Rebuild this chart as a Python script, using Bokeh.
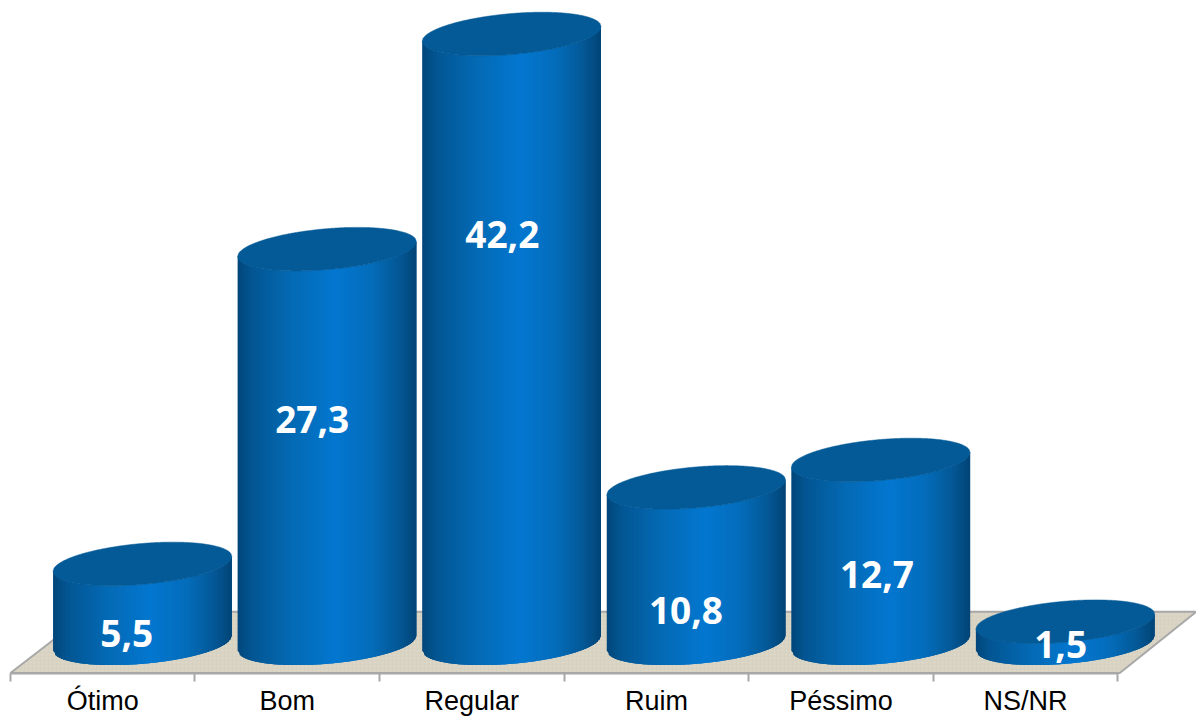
from bokeh.plotting import figure
from bokeh.embed import file_html
from bokeh.resources import INLINE
from bokeh.core.properties import value
from bokeh.models import FixedTicker, LinearAxis, Range1d

categories = ["Ótimo", "Bom", "Regular", "Ruim", "Péssimo", "NS/NR"]
values = [5.5, 27.3, 42.2, 10.8, 12.7, 1.5]
value_labels = ["5,5", "27,3", "42,2", "10,8", "12,7", "1,5"]

# layout: the 1204x726 design scaled into the 1196x718 figure
W, H = 1196, 718
SX, SY = W / 1204, H / 726
PX_X = 185.8 * SX
PX_Y = 14.6 * SY
x0 = -10 * SX / PX_X
x_range = Range1d(x0, x0 + W / PX_X)
y_line = -30 * SY / PX_Y
y0 = -(726 - 650) * SY / PX_Y
y_range = Range1d(y0, y0 + H / PX_Y)

p = figure(width=W, height=H, output_backend="svg", toolbar_location=None,
           x_range=x_range, y_range=y_range, x_axis_location=None, y_axis_location=None,
           min_border_left=0, min_border_right=0, min_border_top=0, min_border_bottom=0,
           outline_line_color=None, background_fill_color="white", border_fill_color="white")
p.grid.visible = False

# floor
n = len(categories)
depth = 62 * SY / PX_Y
shift_left = 80 * SX / PX_X
front_r = n + 2 * SX / PX_X
back_r = front_r + 77 * SX / PX_X
p.patch([0, front_r, back_r, shift_left], [y_line, y_line, y_line + depth, y_line + depth],
        fill_color="#d8d2c3", line_color="#a8a8a8", line_width=2,
        hatch_pattern="dot", hatch_color="#e2ddd0", hatch_scale=4, hatch_alpha=0.6)

# cylinder geometry: the 3D view shifts the bars to the right of their slots
bar_shift = 40 * SX / PX_X
half_w = 90 * SX / PX_X
skew = 7.5 * SY / PX_Y
bulge = 20.7 * SY / PX_Y
stops = [(0.0, (2, 70, 122)), (0.08, (3, 86, 146)), (0.3, (4, 106, 180)), (0.55, (3, 119, 208)),
         (0.75, (4, 108, 186)), (0.9, (4, 88, 150)), (1.0, (2, 68, 118))]


def side_colour(f):
    for (a, ca), (b, cb) in zip(stops, stops[1:]):
        if f <= b:
            t = (f - a) / (b - a)
            return "#%02x%02x%02x" % tuple(round(u + (v - u) * t) for u, v in zip(ca, cb))
    return "#02447a"


def lower_arc(u, base):
    return base + skew * u - bulge * (1 - min(u * u, 1.0)) ** 0.5


N = 90
for i, v in enumerate(values):
    cx = i + 0.5 + bar_shift
    xs, ys, cols = [], [], []
    for k in range(N):
        u0 = -1 + 2 * k / N
        # each strip runs under the next one, so that no seams show
        u1 = min(1.0, -1 + 2 * (k + 2.5) / N)
        xs.append([cx + half_w * u0, cx + half_w * u1, cx + half_w * u1, cx + half_w * u0])
        ys.append([lower_arc(u0, 0), lower_arc(u1, 0), lower_arc(u1, v), lower_arc(u0, v)])
        cols.append(side_colour((k + 0.5) / N))
    p.patches(xs, ys, fill_color=cols, line_color=None)
    tx, ty = [], []
    for k in range(180):
        u = -1 + 2 * k / 179
        tx.append(cx + half_w * u)
        ty.append(lower_arc(u, v))
    for k in range(179, -1, -1):
        u = -1 + 2 * k / 179
        tx.append(cx + half_w * u)
        ty.append(v + skew * u + bulge * (1 - u * u) ** 0.5)
    p.patch(tx, ty, fill_color="#045a96", line_color="#045a96", line_width=0.5)

# value labels: placement as in the original, in data units
label_x = [0.63, 0.635, 0.665, 0.66, 0.695, 0.69]
label_y = [0.7, 15.5, 28.3, 2.25, 4.8, -0.05]
p.text([i + dx for i, dx in enumerate(label_x)], label_y, text=value_labels, text_color="white",
       text_font=value("Open Sans"), text_font_style="bold", text_font_size="37px",
       text_align="center", text_baseline="middle")

# axis: labels at the centres, ticks on the category boundaries
axis = LinearAxis(ticker=FixedTicker(ticks=[i + 0.5 for i in range(n)],
                                     minor_ticks=list(range(n + 1))),
                  major_label_overrides={i + 0.5: c for i, c in enumerate(categories)},
                  bounds=(0, n), fixed_location=y_line,
                  axis_line_color="#a8a8a8", axis_line_width=2,
                  major_tick_in=0, major_tick_out=0, minor_tick_in=0, minor_tick_out=8,
                  minor_tick_line_color="#a8a8a8", minor_tick_line_width=2,
                  major_label_text_font="Liberation Sans", major_label_text_font_size="27px",
                  major_label_text_color="black", major_label_standoff=5)
p.add_layout(axis, "below")

open("out.html", "w").write(file_html(p, INLINE))
